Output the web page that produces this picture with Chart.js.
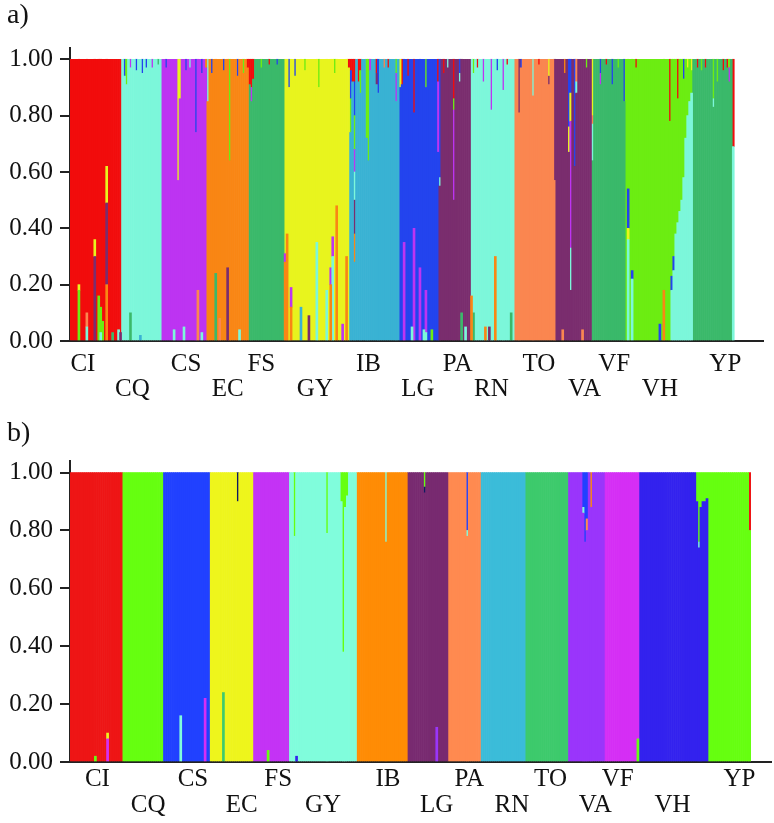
<!DOCTYPE html>
<html>
<head>
<meta charset="utf-8">
<script src="https://cdn.jsdelivr.net/npm/chart.js@4.4.1/dist/chart.umd.min.js"></script>
<style>
  body { margin: 0; background: #fff; }
  #wrap { position: relative; width: 774px; height: 823px; }
  canvas { position: absolute; left: 0; }
  .panel { position: absolute; left: 7px; font: 28px 'Liberation Serif', 'Times New Roman', serif; line-height: 1; color: #111; }
</style>
</head>
<body>
<div id="wrap">
  <canvas id="chartA" width="774" height="400" style="top:0"></canvas>
  <canvas id="chartB" width="774" height="423" style="top:400px"></canvas>
  <div class="panel" style="top:0px">a)</div>
  <div class="panel" style="top:418px">b)</div>
</div>
<script>
const populations = ['CI', 'CQ', 'CS', 'EC', 'FS', 'GY', 'IB', 'LG', 'PA', 'RN', 'TO', 'VA', 'VF', 'VH', 'YP'];
const sampleSizes = [26, 20, 23, 21, 18, 33, 25, 20, 16, 22, 21, 18, 17, 34, 21];

// panel a) clusters, in stacking order (bottom -> top)
const clustersA = ['orange', 'plum', 'steel', 'green', 'aqua', 'salmon', 'purple', 'lime', 'yellow', 'blue', 'red'];
const mainA = ['red', 'aqua', 'purple', 'orange', 'green', 'yellow', 'steel', 'blue', 'plum', 'aqua', 'salmon', 'plum', 'green', 'lime', 'green'];
// [population, individual, cluster, share, b = under main / t = over main]
const admixA = [
  ['CI', 4, 'lime', 0.18, 'b'], ['CI', 4, 'yellow', 0.02, 'b'],
  ['CI', 8, 'aqua', 0.05, 'b'], ['CI', 8, 'salmon', 0.05, 'b'],
  ['CI', 12, 'plum', 0.30, 'b'], ['CI', 12, 'yellow', 0.06, 'b'],
  ['CI', 14, 'lime', 0.16, 'b'],
  ['CI', 15, 'aqua', 0.03, 'b'], ['CI', 15, 'lime', 0.09, 'b'],
  ['CI', 16, 'lime', 0.07, 'b'],
  ['CI', 18, 'orange', 0.20, 'b'], ['CI', 18, 'plum', 0.29, 'b'], ['CI', 18, 'yellow', 0.13, 'b'],
  ['CI', 21, 'green', 0.03, 'b'], ['CI', 24, 'aqua', 0.04, 'b'], ['CI', 25, 'plum', 0.03, 'b'],

  ['CQ', 1, 'blue', 0.06, 't'], ['CQ', 2, 'lime', 0.09, 't'],
  ['CQ', 4, 'purple', 0.03, 't'], ['CQ', 4, 'green', 0.10, 'b'],
  ['CQ', 7, 'blue', 0.04, 't'], ['CQ', 9, 'steel', 0.02, 'b'], ['CQ', 10, 'blue', 0.05, 't'],
  ['CQ', 12, 'blue', 0.03, 't'], ['CQ', 15, 'purple', 0.03, 't'], ['CQ', 18, 'green', 0.02, 't'],

  ['CS', 2, 'blue', 0.03, 't'], ['CS', 6, 'aqua', 0.04, 'b'],
  ['CS', 8, 'yellow', 0.43, 't'], ['CS', 9, 'yellow', 0.14, 't'],
  ['CS', 11, 'aqua', 0.05, 'b'], ['CS', 12, 'blue', 0.04, 't'], ['CS', 14, 'aqua', 0.03, 't'],
  ['CS', 17, 'blue', 0.26, 't'], ['CS', 18, 'salmon', 0.18, 'b'],
  ['CS', 20, 'blue', 0.05, 't'], ['CS', 20, 'aqua', 0.03, 'b'], ['CS', 22, 'orange', 0.03, 't'],

  ['EC', 0, 'aqua', 0.15, 't'], ['EC', 2, 'blue', 0.05, 't'], ['EC', 4, 'green', 0.24, 'b'],
  ['EC', 6, 'salmon', 0.08, 'b'], ['EC', 8, 'blue', 0.04, 't'], ['EC', 10, 'plum', 0.26, 'b'],
  ['EC', 11, 'lime', 0.36, 't'], ['EC', 15, 'blue', 0.06, 't'], ['EC', 16, 'aqua', 0.04, 'b'],
  ['EC', 18, 'lime', 0.05, 't'], ['EC', 20, 'red', 0.03, 't'],

  ['FS', 0, 'red', 0.09, 't'], ['FS', 1, 'red', 0.10, 't'], ['FS', 1, 'purple', 0.05, 't'],
  ['FS', 2, 'red', 0.07, 't'], ['FS', 6, 'lime', 0.03, 't'], ['FS', 10, 'red', 0.02, 't'],
  ['FS', 14, 'blue', 0.02, 't'],

  ['GY', 0, 'orange', 0.28, 'b'], ['GY', 0, 'purple', 0.03, 'b'], ['GY', 1, 'orange', 0.38, 'b'],
  ['GY', 2, 'blue', 0.10, 't'], ['GY', 3, 'orange', 0.12, 'b'], ['GY', 3, 'purple', 0.07, 'b'],
  ['GY', 5, 'blue', 0.06, 't'], ['GY', 8, 'steel', 0.12, 'b'], ['GY', 10, 'lime', 0.04, 't'],
  ['GY', 12, 'plum', 0.09, 'b'], ['GY', 16, 'aqua', 0.35, 'b'], ['GY', 17, 'lime', 0.10, 't'],
  ['GY', 21, 'aqua', 0.18, 'b'], ['GY', 23, 'orange', 0.20, 'b'], ['GY', 23, 'purple', 0.06, 'b'],
  ['GY', 24, 'aqua', 0.30, 'b'], ['GY', 24, 'purple', 0.07, 'b'], ['GY', 25, 'lime', 0.05, 't'],
  ['GY', 26, 'orange', 0.48, 'b'], ['GY', 29, 'purple', 0.06, 'b'], ['GY', 31, 'orange', 0.30, 'b'],
  ['GY', 32, 'red', 0.03, 't'],

  ['IB', 0, 'blue', 0.10, 't'], ['IB', 0, 'lime', 0.12, 't'], ['IB', 0, 'red', 0.04, 't'],
  ['IB', 1, 'red', 0.08, 't'],
  ['IB', 2, 'orange', 0.10, 't'], ['IB', 2, 'plum', 0.12, 't'], ['IB', 2, 'aqua', 0.10, 't'],
  ['IB', 2, 'purple', 0.08, 't'], ['IB', 2, 'lime', 0.12, 't'], ['IB', 2, 'blue', 0.12, 't'], ['IB', 2, 'red', 0.08, 't'],
  ['IB', 4, 'red', 0.08, 't'], ['IB', 5, 'lime', 0.08, 't'], ['IB', 5, 'red', 0.04, 't'],
  ['IB', 8, 'lime', 0.28, 't'], ['IB', 9, 'lime', 0.36, 't'], ['IB', 10, 'purple', 0.04, 't'],
  ['IB', 13, 'red', 0.05, 't'], ['IB', 13, 'plum', 0.04, 't'], ['IB', 14, 'blue', 0.12, 't'],
  ['IB', 17, 'salmon', 0.03, 't'], ['IB', 19, 'red', 0.03, 't'],
  ['IB', 23, 'purple', 0.10, 't'], ['IB', 23, 'lime', 0.05, 't'],

  ['LG', 0, 'yellow', 0.10, 't'], ['LG', 1, 'red', 0.09, 't'], ['LG', 2, 'purple', 0.35, 'b'],
  ['LG', 4, 'red', 0.06, 't'], ['LG', 6, 'aqua', 0.05, 'b'],
  ['LG', 7, 'red', 0.19, 't'], ['LG', 7, 'purple', 0.40, 'b'], ['LG', 10, 'purple', 0.26, 'b'],
  ['LG', 12, 'aqua', 0.04, 'b'], ['LG', 13, 'lime', 0.10, 't'], ['LG', 13, 'purple', 0.15, 'b'],
  ['LG', 13, 'aqua', 0.03, 'b'], ['LG', 16, 'lime', 0.04, 'b'],
  ['LG', 19, 'red', 0.08, 't'], ['LG', 19, 'purple', 0.25, 't'],

  ['PA', 0, 'blue', 0.42, 't'], ['PA', 0, 'aqua', 0.03, 't'], ['PA', 2, 'red', 0.05, 't'],
  ['PA', 4, 'aqua', 0.03, 't'], ['PA', 7, 'red', 0.14, 't'], ['PA', 7, 'purple', 0.32, 't'],
  ['PA', 7, 'lime', 0.04, 't'], ['PA', 10, 'blue', 0.05, 't'], ['PA', 10, 'aqua', 0.03, 't'],
  ['PA', 11, 'green', 0.10, 'b'], ['PA', 13, 'aqua', 0.05, 'b'],

  ['RN', 0, 'orange', 0.16, 'b'], ['RN', 1, 'lime', 0.05, 't'], ['RN', 1, 'green', 0.10, 'b'],
  ['RN', 3, 'red', 0.03, 't'], ['RN', 6, 'purple', 0.08, 't'], ['RN', 7, 'orange', 0.05, 'b'],
  ['RN', 9, 'plum', 0.05, 'b'], ['RN', 10, 'purple', 0.18, 't'], ['RN', 12, 'orange', 0.30, 'b'],
  ['RN', 13, 'blue', 0.04, 't'], ['RN', 16, 'purple', 0.11, 't'], ['RN', 18, 'red', 0.02, 't'],
  ['RN', 20, 'green', 0.10, 'b'],

  ['TO', 2, 'plum', 0.19, 't'], ['TO', 3, 'blue', 0.03, 't'], ['TO', 9, 'aqua', 0.13, 't'],
  ['TO', 12, 'red', 0.02, 't'], ['TO', 17, 'yellow', 0.06, 't'], ['TO', 17, 'plum', 0.03, 't'],
  ['TO', 20, 'plum', 0.43, 't'],

  ['VA', 3, 'salmon', 0.04, 'b'], ['VA', 4, 'orange', 0.05, 't'],
  ['VA', 6, 'blue', 0.24, 't'], ['VA', 6, 'yellow', 0.09, 't'],
  ['VA', 7, 'blue', 0.12, 't'], ['VA', 7, 'yellow', 0.10, 't'], ['VA', 7, 'purple', 0.45, 't'], ['VA', 7, 'aqua', 0.15, 't'],
  ['VA', 9, 'blue', 0.38, 't'], ['VA', 10, 'salmon', 0.08, 't'], ['VA', 10, 'aqua', 0.04, 't'],
  ['VA', 13, 'salmon', 0.04, 'b'], ['VA', 15, 'lime', 0.03, 't'],

  ['VF', 0, 'yellow', 0.20, 't'], ['VF', 0, 'aqua', 0.13, 't'], ['VF', 0, 'salmon', 0.03, 't'],
  ['VF', 4, 'purple', 0.04, 't'], ['VF', 4, 'blue', 0.05, 't'], ['VF', 7, 'red', 0.02, 't'],
  ['VF', 10, 'blue', 0.09, 't'], ['VF', 13, 'lime', 0.03, 't'], ['VF', 16, 'blue', 0.15, 't'],

  ['VH', 1, 'aqua', 0.36, 'b'], ['VH', 1, 'yellow', 0.04, 'b'], ['VH', 1, 'blue', 0.14, 'b'],
  ['VH', 3, 'aqua', 0.22, 'b'], ['VH', 3, 'blue', 0.03, 'b'], ['VH', 5, 'red', 0.03, 't'],
  ['VH', 17, 'blue', 0.06, 'b'], ['VH', 19, 'orange', 0.18, 'b'], ['VH', 22, 'red', 0.22, 't'],
  ['VH', 23, 'aqua', 0.18, 'b'], ['VH', 23, 'blue', 0.05, 'b'],
  ['VH', 24, 'aqua', 0.25, 'b'], ['VH', 24, 'blue', 0.05, 'b'],
  ['VH', 25, 'aqua', 0.38, 'b'], ['VH', 26, 'aqua', 0.42, 'b'], ['VH', 26, 'red', 0.14, 't'],
  ['VH', 27, 'aqua', 0.46, 'b'], ['VH', 28, 'aqua', 0.50, 'b'],
  ['VH', 29, 'aqua', 0.58, 'b'], ['VH', 29, 'blue', 0.07, 't'], ['VH', 30, 'aqua', 0.72, 'b'],
  ['VH', 31, 'aqua', 0.80, 'b'], ['VH', 31, 'yellow', 0.03, 't'], ['VH', 32, 'aqua', 0.85, 'b'],
  ['VH', 33, 'aqua', 0.88, 'b'], ['VH', 33, 'yellow', 0.04, 't'],

  ['YP', 2, 'red', 0.03, 't'], ['YP', 4, 'lime', 0.04, 't'], ['YP', 6, 'red', 0.03, 't'],
  ['YP', 10, 'lime', 0.14, 't'], ['YP', 10, 'aqua', 0.03, 't'], ['YP', 12, 'lime', 0.08, 't'],
  ['YP', 15, 'red', 0.04, 't'], ['YP', 17, 'red', 0.03, 't'],
  ['YP', 18, 'purple', 0.05, 't'], ['YP', 18, 'lime', 0.03, 't'],
  ['YP', 20, 'red', 0.31, 't'], ['YP', 20, 'aqua', 0.69, 'b']
];
const tickIndexA = [6, 31, 58, 79, 96, 123, 150, 175, 195, 212, 236, 259, 274, 297, 330];

// panel b) clusters, in stacking order (bottom -> top)
const clustersB = ['aqua', 'orange', 'plum', 'salmon', 'cyan', 'green', 'violet', 'magenta', 'yellow', 'navy', 'blueCS', 'blueVH', 'purpleFS', 'lime', 'red'];
const mainB = ['red', 'lime', 'blueCS', 'yellow', 'purpleFS', 'aqua', 'orange', 'plum', 'salmon', 'cyan', 'green', 'violet', 'magenta', 'blueVH', 'lime'];
const admixB = [
  ['CI', 12, 'lime', 0.02, 'b'], ['CI', 18, 'magenta', 0.08, 'b'], ['CI', 18, 'yellow', 0.02, 'b'],
  ['CS', 8, 'aqua', 0.16, 'b'], ['CS', 20, 'magenta', 0.22, 'b'],
  ['EC', 6, 'green', 0.24, 'b'], ['EC', 13, 'navy', 0.10, 't'],
  ['FS', 7, 'lime', 0.04, 'b'],
  ['GY', 2, 'lime', 0.22, 't'], ['GY', 3, 'blueVH', 0.02, 'b'], ['GY', 18, 'lime', 0.21, 't'],
  ['GY', 25, 'lime', 0.10, 't'], ['GY', 26, 'lime', 0.62, 't'], ['GY', 27, 'lime', 0.12, 't'],
  ['GY', 28, 'lime', 0.08, 't'],
  ['IB', 14, 'aqua', 0.24, 't'],
  ['LG', 8, 'navy', 0.02, 't'], ['LG', 8, 'lime', 0.05, 't'], ['LG', 14, 'violet', 0.12, 'b'],
  ['PA', 9, 'aqua', 0.02, 't'], ['PA', 9, 'blueCS', 0.20, 't'],
  ['VA', 7, 'aqua', 0.02, 't'], ['VA', 7, 'blueCS', 0.12, 't'], ['VA', 8, 'blueCS', 0.24, 't'],
  ['VA', 9, 'salmon', 0.04, 't'], ['VA', 9, 'blueCS', 0.16, 't'], ['VA', 11, 'orange', 0.12, 't'],
  ['VF', 16, 'lime', 0.08, 'b'],
  ['VH', 28, 'lime', 0.10, 't'], ['VH', 29, 'aqua', 0.02, 't'], ['VH', 29, 'lime', 0.24, 't'],
  ['VH', 30, 'lime', 0.12, 't'], ['VH', 31, 'lime', 0.10, 't'], ['VH', 32, 'lime', 0.10, 't'],
  ['VH', 33, 'lime', 0.09, 't'],
  ['YP', 20, 'red', 0.20, 't']
];
const tickIndexB = [13, 38, 60, 84, 102, 124, 156, 180, 196, 217, 236, 258, 269, 296, 329];

const colorsA = {
  orange: '#f98614', plum: '#7a2d6e', steel: '#39b2d3', green: '#3ab96a', aqua: '#7cf7da',
  salmon: '#fa8650', purple: '#bd34f2', lime: '#6ced12', yellow: '#e8f41e', blue: '#2344ee', red: '#f20c0c'
};
const colorsB = {
  aqua: '#80fddc', orange: '#ff8c05', plum: '#782a70', salmon: '#ff8a50', cyan: '#3bbcd9',
  green: '#3dca6c', violet: '#9a35fb', magenta: '#d52ef5', yellow: '#eef51c', navy: '#101a60',
  blueCS: '#2141ff', blueVH: '#3322ee', purpleFS: '#c433f5', lime: '#66ff10', red: '#ee1515'
};

const serif = "'Liberation Serif', 'Times New Roman', serif";

function buildDatasets(clusters, main, admix, colors, pad) {
  const starts = [];
  let total = 0;
  sampleSizes.forEach(n => { starts.push(total); total += n; });
  const layer = {};
  ['b', 'm', 't'].forEach(side => {
    layer[side] = {};
    clusters.forEach(c => { layer[side][c] = new Array(total + pad).fill(null); });
  });
  populations.forEach((p, pi) => {
    for (let k = 0; k < sampleSizes[pi]; k++) layer.m[main[pi]][starts[pi] + k] = 1;
  });
  admix.forEach(([p, k, c, v, side]) => {
    const pi = populations.indexOf(p);
    const i = starts[pi] + k;
    layer[side][c][i] = (layer[side][c][i] || 0) + v;
    layer.m[main[pi]][i] -= v;
  });
  clusters.forEach(c => {
    layer.m[c] = layer.m[c].map(v => (v !== null && v < 0.001) ? null : v);
  });
  const labels = [];
  populations.forEach((p, pi) => {
    for (let k = 0; k < sampleSizes[pi]; k++) labels.push(p + (k + 1));
  });
  for (let k = 0; k < pad; k++) labels.push('');
  const datasets = [];
  ['b', 'm', 't'].forEach(side => clusters.forEach(c => {
    datasets.push({
      label: c + '-' + side,
      data: layer[side][c],
      backgroundColor: colors[c],
      borderWidth: 0,
      barPercentage: 1,
      categoryPercentage: 1
    });
  }));
  return { labels, datasets };
}

function makeChart(id, data, tickIndex, cfg) {
  return new Chart(document.getElementById(id), {
    type: 'bar',
    data: data,
    options: {
      responsive: false,
      animation: false,
      devicePixelRatio: 1,
      events: [],
      layout: { padding: { top: cfg.top, right: 1, left: 0, bottom: 0 } },
      plugins: { legend: { display: false }, tooltip: { enabled: false } },
      scales: {
        x: {
          stacked: true,
          grid: { display: false, drawTicks: false },
          border: { display: true, color: '#222', width: 2 },
          ticks: {
            autoSkip: false, maxRotation: 0, minRotation: 0,
            padding: cfg.labelPad, color: '#111',
            font: { family: serif, size: 25, lineHeight: cfg.lineHeight },
            callback: (v, i) => {
              const p = tickIndex.indexOf(i);
              if (p < 0) return '';
              return p % 2 ? ['', populations[p]] : populations[p];
            }
          },
          afterFit: s => { s.height = cfg.xHeight; }
        },
        y: {
          stacked: true,
          min: 0,
          max: 1.04,
          grid: { display: true, drawOnChartArea: false, drawTicks: true, tickLength: 10, color: '#222', lineWidth: 2 },
          border: { display: true, color: '#222', width: 2 },
          ticks: {
            stepSize: 0.2, includeBounds: false, padding: 7, color: '#111',
            font: { family: serif, size: 25 },
            callback: v => v.toFixed(2)
          },
          afterFit: s => { s.width = 70; }
        }
      }
    }
  });
}

makeChart('chartA', buildDatasets(clustersA, mainA, admixA, colorsA, 15), tickIndexA,
  { top: 48, xHeight: 59, labelPad: 11, lineHeight: 25 / 25 });
makeChart('chartB', buildDatasets(clustersB, mainB, admixB, colorsB, 10), tickIndexB,
  { top: 61, xHeight: 61, labelPad: 4, lineHeight: 26 / 25 });
</script>
</body>
</html>
